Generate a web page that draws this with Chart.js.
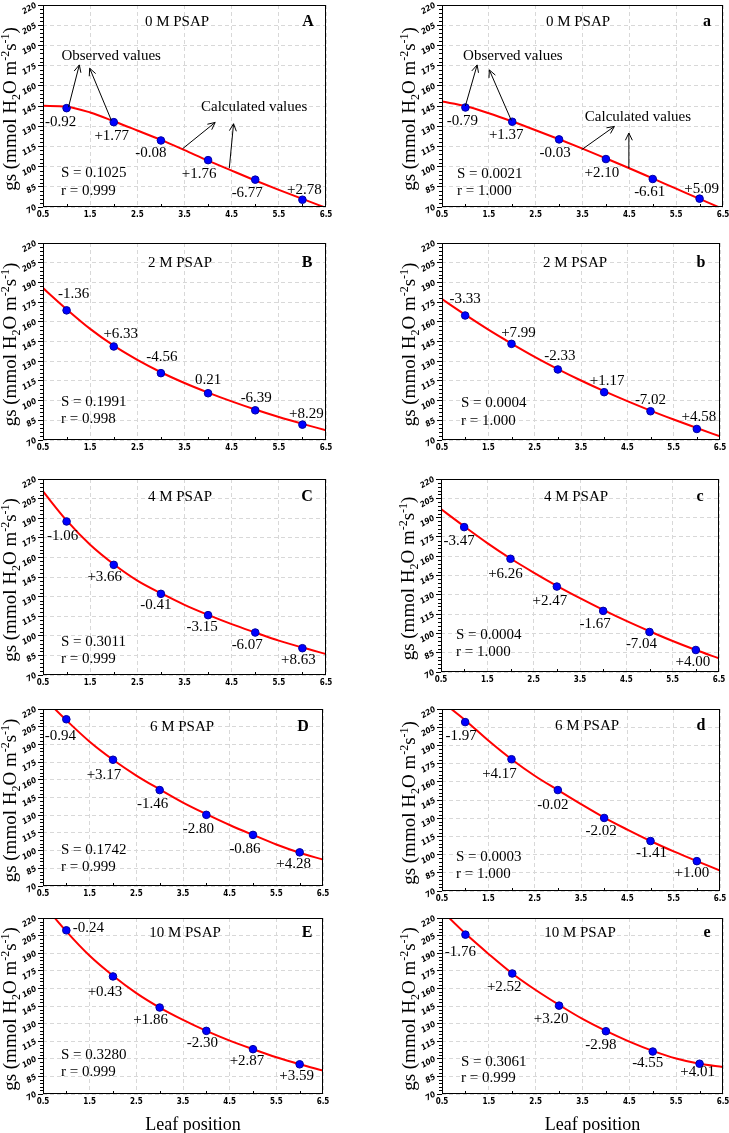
<!DOCTYPE html>
<html>
<head>
<meta charset="utf-8">
<script src="https://cdn.jsdelivr.net/npm/chart.js@4.4.1/dist/chart.umd.min.js"></script>
<style>
    html, body { margin: 0; padding: 0; background: #fff; }
    #page { position: relative; width: 729px; height: 1133px; overflow: hidden; background: #fff; }
    #page canvas { position: absolute; }
</style>
</head>
<body>
<div id="page"></div>
<script>
// gs vs leaf position, 5 PSAP levels x 2 fits (A–E, a–e)

// ------------------------------------------------------------
// data
// ------------------------------------------------------------
const leafPos = [1, 2, 3, 4, 5, 6];
const fitX = [0.5, 1, 1.5, 2, 2.5, 3, 3.5, 4, 4.5, 5, 5.5, 6, 6.5];
const xMin = 0.5, xMax = 6.5, xStep = 1;
const yMin = 70, yMax = 220, yStep = 15;

const panelTitles = ["0 M PSAP", "0 M PSAP", "2 M PSAP", "2 M PSAP", "4 M PSAP",
                     "4 M PSAP", "6 M PSAP", "6 M PSAP", "10 M PSAP", "10 M PSAP"];
const panelLetters = ["A", "a", "B", "b", "C", "c", "D", "d", "E", "e"];
const sValues = ["0.1025", "0.0021", "0.1991", "0.0004", "0.3011", "0.0004", "0.1742", "0.0003", "0.3280", "0.3061"];
const rValues = ["0.999", "1.000", "0.998", "1.000", "0.999", "1.000", "0.999", "1.000", "0.999", "0.999"];

// observed values (blue points)
const obsA = [143.4, 133.0, 119.4, 104.8, 90.3, 75.4];
const obs_a = [143.9, 133.3, 120.2, 105.6, 90.8, 76.2];
const obsB = [168.7, 141.2, 120.9, 105.6, 92.6, 81.7];
const obs_b = [164.8, 143.2, 123.7, 106.4, 91.9, 78.4];
const obsC = [187.5, 154.3, 132.1, 115.8, 102.5, 90.5];
const obs_c = [182.6, 158.0, 136.4, 117.5, 101.1, 87.1];
const obsD = [211.3, 177.0, 151.3, 130.3, 113.3, 98.5];
const obs_d = [209.2, 178.6, 153.2, 130.2, 111.2, 94.6];
const obsE = [209.5, 170.2, 143.7, 123.8, 108.2, 95.3];
const obs_e = [205.8, 172.7, 145.3, 123.5, 106.2, 95.8];

// calculated values (red curve) read at fitX
const fitA = [145.1, 144.5, 140.2, 133.7, 126.8, 119.8, 112.2, 104.4, 97.0, 89.7, 82.7, 76.0, 69.4];
const fit_a = [148.3, 145.0, 139.6, 133.5, 127.0, 120.3, 113.3, 106.1, 98.8, 91.2, 83.6, 76.0, 68.5];
const fitB = [185.7, 169.6, 154.6, 141.8, 131.0, 121.6, 113.4, 106.1, 99.4, 93.2, 87.5, 82.3, 77.4];
const fit_b = [177.3, 165.4, 154.0, 143.4, 133.3, 124.0, 115.3, 107.2, 99.6, 92.4, 85.6, 79.1, 72.8];
const fitC = [210.5, 188.3, 169.7, 154.8, 142.3, 132.6, 123.7, 116.0, 108.9, 102.5, 96.3, 91.0, 86.1];
const fit_c = [196.6, 183.2, 170.2, 158.2, 147.3, 137.0, 127.4, 118.3, 109.7, 101.7, 94.1, 87.1, 80.6];
const fitD = [230.0, 210.5, 192.3, 177.0, 163.6, 151.9, 140.7, 130.9, 121.7, 113.3, 105.2, 98.2, 92.4];
const fit_d = [226.0, 210.8, 194.0, 178.6, 165.0, 153.2, 141.6, 130.5, 120.6, 111.2, 102.6, 94.6, 86.9];
const fitE = [232.0, 208.6, 187.8, 170.8, 156.0, 143.7, 133.2, 123.8, 115.5, 108.2, 101.3, 95.3, 89.9];
const fit_e = [226.0, 206.7, 189.2, 172.7, 158.6, 145.9, 134.0, 123.8, 114.7, 106.8, 100.3, 95.8, 93.0];

// deviation labels next to each point
const devA = ["-0.92", "+1.77", "-0.08", "+1.76", "-6.77", "+2.78"];
const dev_a = ["-0.79", "+1.37", "-0.03", "+2.10", "-6.61", "+5.09"];
const devB = ["-1.36", "+6.33", "-4.56", "0.21", "-6.39", "+8.29"];
const dev_b = ["-3.33", "+7.99", "-2.33", "+1.17", "-7.02", "+4.58"];
const devC = ["-1.06", "+3.66", "-0.41", "-3.15", "-6.07", "+8.63"];
const dev_c = ["-3.47", "+6.26", "+2.47", "-1.67", "-7.04", "+4.00"];
const devD = ["-0.94", "+3.17", "-1.46", "-2.80", "-0.86", "+4.28"];
const dev_d = ["-1.97", "+4.17", "-0.02", "-2.02", "-1.41", "+1.00"];
const devE = ["-0.24", "+0.43", "+1.86", "-2.30", "+2.87", "+3.59"];
const dev_e = ["-1.76", "+2.52", "+3.20", "-2.98", "-4.55", "+4.01"];

const observed = [obsA, obs_a, obsB, obs_b, obsC, obs_c, obsD, obs_d, obsE, obs_e];
const fitted = [fitA, fit_a, fitB, fit_b, fitC, fit_c, fitD, fit_d, fitE, fit_e];
const deviations = [devA, dev_a, devB, dev_b, devC, dev_c, devD, dev_d, devE, dev_e];

// arrow annotations (panels A and a), data units: [x1, y1, x2, y2] with head at (x2, y2)
const arrowsA = [[1.04, 144.1, 1.27, 175.5], [1.95, 134.3, 1.49, 173.0], [3.46, 113.3, 4.15, 132.8], [4.45, 98.9, 4.54, 131.8]];
const arrows_a = [[1.0, 145.1, 1.25, 175.5], [1.98, 134.3, 1.51, 171.8], [3.48, 112.5, 4.18, 129.8], [4.49, 98.9, 4.49, 124.9]];
const notesA = [["Observed values", 0.89, 182.2], ["Calculated values", 3.85, 144.1]];
const notes_a = [["Observed values", 0.95, 182.2], ["Calculated values", 3.55, 136.7]];

// ------------------------------------------------------------
// layout (page px)
// ------------------------------------------------------------
const panelBoxes = [
    [43, 5, 326, 207], [442, 5, 723, 207],
    [43, 243, 326, 440], [442, 243, 720, 440],
    [43, 479, 326, 675], [441, 479, 719, 672],
    [43, 709, 323, 886], [442, 709, 720, 891],
    [43, 918, 323, 1094], [442, 918, 723, 1094],
];
const titleDx = [134, 136, 137, 133, 137, 135, 139, 145, 142, 138];
const titleDy = [17, 17, 20, 20, 18, 18, 18, 17, 15, 15];
const letterDx = [18, 16, 19, 19, 19, 19, 20, 19, 16, 16];
const statsDx = [18, 15, 18, 19, 18, 15, 18, 14, 18, 19];
const statsSDy = [34, 33, 38, 37, 33, 37, 36, 34, 39, 32];
const statsRDy = [16, 16, 21, 19, 16, 20, 19, 17, 22, 16];
const labelOffsets = [
    [[-6, 14], [-2, 14], [-10, 13], [-9, 14], [-8, 13], [2, -10]],
    [[-3, 14], [-6, 13], [-4, 14], [-4, 14], [-3, 13], [2, -10]],
    [[7, -16], [7, -12], [1, -16], [0, -13], [1, -12], [4, -11]],
    [[0, -16], [7, -11], [2, -13], [3, -11], [0, -11], [2, -12]],
    [[-4, 15], [-9, 12], [-5, 11], [-6, 12], [-8, 13], [-4, 12]],
    [[-5, 14], [-5, 15], [-7, 14], [-8, 13], [-8, 12], [-3, 12]],
    [[-6, 17], [-9, 15], [-7, 14], [-8, 14], [-8, 14], [-6, 12]],
    [[-4, 14], [-12, 15], [-5, 15], [-3, 13], [1, 12], [-5, 12]],
    [[22, -2], [-8, 16], [-9, 13], [-4, 12], [-6, 12], [-3, 12]],
    [[-5, 17], [-8, 14], [-8, 13], [-5, 14], [-5, 12], [-2, 8]],
];

const SERIF = '"Liberation Serif", "Times New Roman", serif';
const TICKFONT = '"Liberation Sans Narrow", "DejaVu Sans Condensed", "Liberation Sans", sans-serif';

// ------------------------------------------------------------
// drawing helpers
// ------------------------------------------------------------
function drawArrow(ctx, x1, y1, x2, y2) {
    const ang = Math.atan2(y2 - y1, x2 - x1);
    const len = 8, spread = 0.45;
    ctx.beginPath();
    ctx.moveTo(x1, y1);
    ctx.lineTo(x2, y2);
    ctx.moveTo(x2 - len * Math.cos(ang - spread), y2 - len * Math.sin(ang - spread));
    ctx.lineTo(x2, y2);
    ctx.lineTo(x2 - len * Math.cos(ang + spread), y2 - len * Math.sin(ang + spread));
    ctx.stroke();
}

function drawYTitle(ctx, cx, cy) {
    const big = `19px ${SERIF}`, small = `12px ${SERIF}`;
    // 0 normal, 1 subscript, -1 superscript
    const parts = [["gs (mmol H", 0], ["2", 1], ["O m", 0], ["-2", -1], ["s", 0], ["-1", -1], [")", 0]];
    ctx.save();
    ctx.translate(cx, cy);
    ctx.rotate(-Math.PI / 2);
    let total = 0;
    parts.forEach(p => { ctx.font = p[1] ? small : big; total += ctx.measureText(p[0]).width; });
    let xx = -total / 2;
    ctx.textAlign = "left";
    ctx.textBaseline = "alphabetic";
    ctx.fillStyle = "#000";
    parts.forEach(p => {
        ctx.font = p[1] ? small : big;
        const dy = p[1] === 1 ? 4 : (p[1] === -1 ? -7 : 0);
        ctx.fillText(p[0], xx, 6 + dy);
        xx += ctx.measureText(p[0]).width;
    });
    ctx.restore();
}

function overlayFor(i) {
    return {
        id: "overlay" + i,
        afterDatasetsDraw(chart) {
            const { ctx, chartArea: a, scales: { x, y } } = chart;
            ctx.save();

            // frame
            ctx.strokeStyle = "#000";
            ctx.lineWidth = 1;
            ctx.strokeRect(Math.round(a.left) + 0.5, Math.round(a.top) + 0.5,
                           Math.round(a.right - a.left) - 1, Math.round(a.bottom - a.top) - 1);

            // minor ticks
            ctx.beginPath();
            for (let v = yMin + 3; v < yMax; v += 3) {
                if ((v - yMin) % yStep === 0) continue;
                const py = Math.round(y.getPixelForValue(v)) + 0.5;
                ctx.moveTo(a.left - 3, py);
                ctx.lineTo(a.left, py);
            }
            for (let v = 1; v <= 6; v++) {
                const px = Math.round(x.getPixelForValue(v)) + 0.5;
                ctx.moveTo(px, a.bottom);
                ctx.lineTo(px, a.bottom - 3);
            }
            ctx.stroke();

            // axis titles
            drawYTitle(ctx, a.left - 33, (a.top + a.bottom) / 2 + 3);

            ctx.fillStyle = "#000";
            ctx.textBaseline = "middle";

            if (i >= 8) {
                ctx.font = `18px ${SERIF}`;
                ctx.textAlign = "center";
                ctx.fillText("Leaf position", (a.left + a.right) / 2 + 10, a.bottom + 31);
            }

            // panel title + letter
            ctx.font = `15px ${SERIF}`;
            ctx.textAlign = "center";
            ctx.fillText(panelTitles[i], a.left + titleDx[i], a.top + titleDy[i]);
            ctx.font = `bold 16px ${SERIF}`;
            ctx.fillText(panelLetters[i], a.right - letterDx[i], a.top + titleDy[i]);

            // S and r
            ctx.font = `15px ${SERIF}`;
            ctx.textAlign = "left";
            ctx.fillText("S = " + sValues[i], a.left + statsDx[i], a.bottom - statsSDy[i]);
            ctx.fillText("r = " + rValues[i], a.left + statsDx[i], a.bottom - statsRDy[i]);

            // deviation labels
            ctx.textAlign = "center";
            deviations[i].forEach((txt, k) => {
                const px = x.getPixelForValue(leafPos[k]);
                const py = y.getPixelForValue(observed[i][k]);
                const [dx, dy] = labelOffsets[i][k];
                ctx.fillText(txt, px + dx, py + dy);
            });

            // arrows + notes (first row only)
            const arrows = i === 0 ? arrowsA : (i === 1 ? arrows_a : null);
            const notes = i === 0 ? notesA : (i === 1 ? notes_a : null);
            if (arrows) {
                ctx.lineWidth = 1;
                arrows.forEach(([x1, y1, x2, y2]) => {
                    drawArrow(ctx, x.getPixelForValue(x1), y.getPixelForValue(y1),
                                   x.getPixelForValue(x2), y.getPixelForValue(y2));
                });
                ctx.textAlign = "left";
                notes.forEach(([txt, nx, ny]) => {
                    ctx.fillText(txt, x.getPixelForValue(nx), y.getPixelForValue(ny));
                });
            }
            ctx.restore();
        },
    };
}

// ------------------------------------------------------------
// panels
// ------------------------------------------------------------
function makePanel(i) {
    const [L, T, R, B] = panelBoxes[i];
    const bottomRow = i >= 8;
    const padTop = 12, padRight = 16, yAxisW = 43;
    const xAxisH = bottomRow ? 44 : 14;
    const w = R - L + yAxisW + padRight;
    const h = B - T + padTop + xAxisH;

    const cv = document.createElement("canvas");
    cv.width = w;
    cv.height = h;
    cv.style.left = (L - yAxisW) + "px";
    cv.style.top = (T - padTop) + "px";
    cv.style.width = w + "px";
    cv.style.height = h + "px";
    document.getElementById("page").appendChild(cv);

    new Chart(cv, {
        type: "scatter",
        data: {
            datasets: [
                {
                    label: "Observed",
                    data: leafPos.map((lx, k) => ({ x: lx, y: observed[i][k] })),
                    backgroundColor: "#0000ff",
                    borderColor: "#0000a0",
                    borderWidth: 1,
                    pointRadius: 3.8,
                },
                {
                    label: "Calculated",
                    data: fitX.map((fx, k) => ({ x: fx, y: fitted[i][k] })),
                    showLine: true,
                    borderColor: "#ff0000",
                    borderWidth: 2,
                    pointRadius: 0,
                    cubicInterpolationMode: "monotone",
                    fill: false,
                },
            ],
        },
        options: {
            responsive: false,
            animation: false,
            devicePixelRatio: 1,
            layout: { padding: { top: padTop, right: padRight, left: 0, bottom: 0 } },
            plugins: { legend: { display: false }, tooltip: { enabled: false } },
            scales: {
                x: {
                    type: "linear",
                    min: xMin,
                    max: xMax,
                    ticks: {
                        stepSize: xStep,
                        color: "#000",
                        font: { family: TICKFONT, size: 8, weight: "bold" },
                        padding: 3,
                        maxRotation: 0,
                        autoSkip: false,
                    },
                    grid: { color: "#d8d8d8", drawTicks: false },
                    border: { display: false, dash: [4, 3] },
                    afterFit(scale) { scale.height = xAxisH; },
                },
                y: {
                    type: "linear",
                    min: yMin,
                    max: yMax,
                    ticks: {
                        stepSize: yStep,
                        color: "#000",
                        font: { family: TICKFONT, size: 8, weight: "bold", style: "italic" },
                        padding: 2,
                        minRotation: 30,
                        maxRotation: 30,
                        autoSkip: false,
                    },
                    grid: { color: "#d8d8d8", tickColor: "#000", tickLength: 5, tickWidth: 1 },
                    border: { display: false, dash: [4, 3] },
                    afterFit(scale) { scale.width = yAxisW; },
                },
            },
        },
        plugins: [overlayFor(i)],
    });
}

document.addEventListener("DOMContentLoaded", () => {
    for (let i = 0; i < panelBoxes.length; i++) makePanel(i);
});
</script>
</body>
</html>
